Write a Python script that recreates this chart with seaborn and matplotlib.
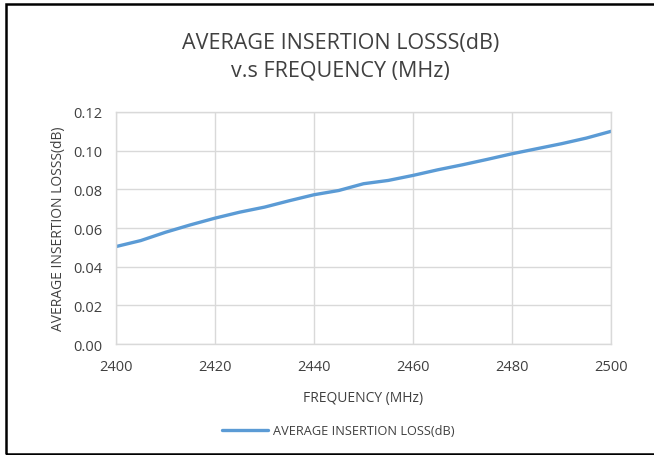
import pandas as pd
import numpy as np
import matplotlib
matplotlib.use('Agg')
import matplotlib.pyplot as plt
import seaborn as sns
from matplotlib.patches import Rectangle

# frequency sweep (MHz) and measured average insertion loss (dB), read every 5 MHz
FREQ_MHZ = [2400, 2405, 2410, 2415, 2420, 2425, 2430, 2435, 2440, 2445, 2450,
            2455, 2460, 2465, 2470, 2475, 2480, 2485, 2490, 2495, 2500]
LOSS_DB = [0.0504, 0.0535, 0.0578, 0.0616, 0.0651, 0.0682, 0.0708, 0.0741, 0.0772, 0.0794, 0.0829,
           0.0846, 0.0872, 0.0901, 0.0927, 0.0955, 0.0984, 0.1010, 0.1036, 0.1065, 0.1100]
X_TICKS = [2400, 2420, 2440, 2460, 2480, 2500]
Y_TICKS = [0.00, 0.02, 0.04, 0.06, 0.08, 0.10, 0.12]

TEXT_COL = '#404040'
GRID_COL = '#d9d9d9'
LINE_COL = '#5b9bd5'

sns.set_theme(style='white')
plt.rcParams['font.family'] = ['Open Sans', 'DejaVu Sans']

df = pd.DataFrame({'freq': FREQ_MHZ, 'loss': LOSS_DB})

fig = plt.figure(figsize=(6.54, 4.56), dpi=100)
ax = fig.add_axes([0.1774, 0.2434, 0.7569, 0.5088])

sns.lineplot(data=df, x='freq', y='loss', ax=ax, color=LINE_COL, linewidth=2.4,
             label='AVERAGE INSERTION LOSS(dB)', legend=False)

ax.set_xlim(2400, 2500)
ax.set_ylim(0, 0.12)
ax.set_xticks(X_TICKS)
ax.set_yticks(Y_TICKS)
ax.set_yticklabels([f'{v:.2f}' for v in Y_TICKS])
ax.grid(True, color=GRID_COL, linewidth=1.0)
ax.set_axisbelow(True)
for s in ax.spines.values():
    s.set_color(GRID_COL)
    s.set_linewidth(1.0)
ax.tick_params(axis='both', length=0, labelsize=10.5, colors=TEXT_COL)
ax.tick_params(axis='y', pad=10)
ax.tick_params(axis='x', pad=11)

ax.set_xlabel('FREQUENCY (MHz)', fontsize=10, color=TEXT_COL, labelpad=11)
ax.set_ylabel('AVERAGE INSERTION LOSSS(dB)', fontsize=10, color=TEXT_COL, labelpad=5)

fig.text(0.521, 0.875, 'AVERAGE INSERTION LOSSS(dB)\nv.s FREQUENCY (MHz)',
         ha='center', va='center', fontsize=15.5, color=TEXT_COL, linespacing=1.42)

leg = fig.legend(handles=ax.get_lines(), labels=['AVERAGE INSERTION LOSS(dB)'],
                 loc='center', bbox_to_anchor=(0.517, 0.053), frameon=False,
                 fontsize=9.2, handlelength=3.6, handletextpad=0.4)
for t in leg.get_texts():
    t.set_color(TEXT_COL)

# outer chart border (right edge falls outside the image)
fig.patches.append(Rectangle((6 / 654, 1 / 456), 1.2, 450 / 456, transform=fig.transFigure,
                             fill=False, edgecolor='black', linewidth=1.8))

fig.savefig('out.png', dpi=100)
plt.close(fig)
